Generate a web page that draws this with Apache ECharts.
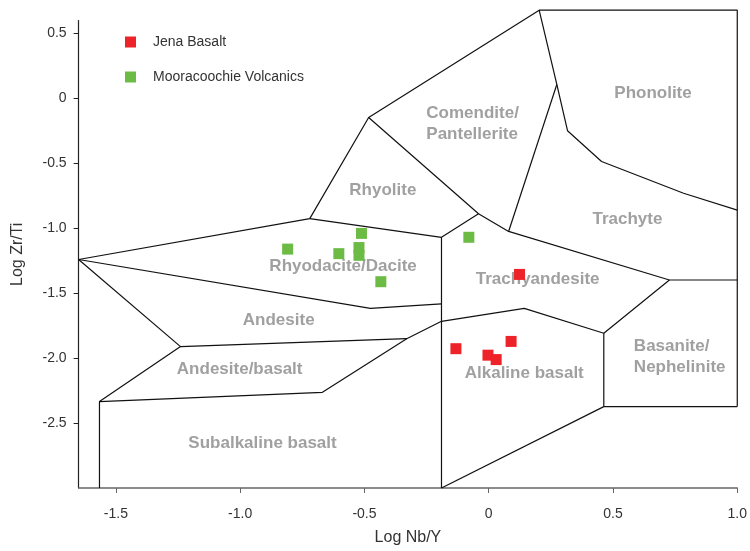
<!DOCTYPE html>
<html>
<head>
<meta charset="utf-8">
<script src="https://cdn.jsdelivr.net/npm/echarts@6/dist/echarts.min.js"></script>
<style>
  html, body { margin: 0; padding: 0; background: #fff; }
  #chart { width: 750px; height: 551px; }
</style>
</head>
<body>
<div id="chart"></div>
<script>
// Winchester & Floyd style discrimination diagram: Log Zr/Ti vs Log Nb/Y

// Sample compositions [Log Nb/Y, Log Zr/Ti]
const jenaBasalt = [
  [0.124, -1.355],
  [-0.132, -1.927],
  [-0.003, -1.977],
  [0.030, -2.011],
  [0.090, -1.871]
];
const mooracoochieVolcanics = [
  [-0.809, -1.160],
  [-0.603, -1.195],
  [-0.512, -1.039],
  [-0.522, -1.148],
  [-0.522, -1.208],
  [-0.434, -1.411],
  [-0.080, -1.069]
];

// Field boundary vertices
const A = [-1.65, -1.24], B = [-0.72, -0.925], C = [-0.483, -0.146];
const D = [0.203, 0.68], E = [1.0, 0.68], F = [0.274, 0.108];
const G = [0.317, -0.248], H = [0.454, -0.485], H2 = [0.784, -0.73];
const I = [1.0, -0.86], J = [-0.041, -0.888], K = [0.08, -1.024];
const L = [-0.19, -1.069], M = [-0.19, -1.582], N = [-0.476, -1.617];
const O = [-0.19, -1.716], P = [-0.33, -1.85], Q = [-1.24, -1.911];
const R = [-0.669, -2.263], S = [-1.566, -2.334], T = [-1.566, -3.0];
const U = [-0.19, -3.0], V = [0.727, -1.398], W = [1.0, -1.398];
const X = [0.143, -1.617], Y = [0.463, -1.808], Z = [0.463, -2.373];
const AA = [1.0, -2.373];

const boundaries = [
  [A, B, C, D, E, AA],
  [B, L, J],
  [C, J, K, V, W],
  [D, F, G, H, H2, I],
  [F, K],
  [L, U],
  [A, N, M],
  [A, Q, P, O, X, Y, V],
  [Q, S, T],
  [S, R, P],
  [Y, Z, AA],
  [Z, U]
];

// Field names, centred on the given point
const fieldNames = ['Phonolite', 'Rhyolite', 'Trachyte', 'Trachyandesite',
  'Rhyodacite/Dacite', 'Andesite', 'Andesite/basalt', 'Subalkaline basalt', 'Alkaline basalt'];
const fieldPos = [[0.661, 0.037], [-0.426, -0.706], [0.558, -0.930], [0.197, -1.393],
  [-0.586, -1.291], [-0.845, -1.706], [-1.002, -2.085], [-0.910, -2.653], [0.143, -2.118]];
// Two-line names, left-aligned from the given point
const blockNames = ['Comendite/\nPantellerite', 'Basanite/\nNephelinite'];
const blockPos = [[-0.251, -0.197], [0.584, -1.993]];

const xTicks = [-1.5, -1.0, -0.5, 0, 0.5, 1.0];
const yTicks = [-2.5, -2.0, -1.5, -1.0, -0.5, 0, 0.5];

const fmt = v => (Math.abs(v) < 1e-9 ? '0' : Number(v).toFixed(1));
const tickFont = 'Liberation Sans';
const fieldFont = { color: '#8a8888', fontSize: 17, fontWeight: 'bold', fontFamily: 'Liberation Sans' };

const series = boundaries.map(pts => ({
  type: 'line',
  data: pts,
  symbol: 'none',
  clip: false,
  silent: true,
  lineStyle: { color: '#111', width: 1.2 },
  z: 2
}));

series.push({
  type: 'scatter',
  data: fieldNames.map((n, i) => ({ name: n, value: fieldPos[i] })),
  symbolSize: 0,
  silent: true,
  label: Object.assign({ show: true, position: 'inside', formatter: '{b}' }, fieldFont),
  z: 3
});
series.push({
  type: 'scatter',
  data: blockNames.map((n, i) => ({ name: n, value: blockPos[i] })),
  symbolSize: 0,
  silent: true,
  label: Object.assign({ show: true, position: 'right', distance: 0, formatter: '{b}', align: 'left', lineHeight: 21 }, fieldFont),
  z: 3
});
series.push({
  name: 'Jena Basalt', type: 'scatter', data: jenaBasalt,
  symbol: 'rect', symbolSize: 11,
  itemStyle: { color: '#ee2229', opacity: 1 }, z: 5
});
series.push({
  name: 'Mooracoochie Volcanics', type: 'scatter', data: mooracoochieVolcanics,
  symbol: 'rect', symbolSize: 11,
  itemStyle: { color: '#6cbb45', opacity: 1 }, z: 5
});

const chart = echarts.init(document.getElementById('chart'), null, { renderer: 'canvas' });
chart.setOption({
  animation: false,
  backgroundColor: '#fff',
  grid: { left: 78.6, right: 10, top: 20.6, bottom: 60, containLabel: false },
  legend: {
    data: ['Jena Basalt', 'Mooracoochie Volcanics'],
    orient: 'vertical', left: 120, top: 30,
    icon: 'rect', itemWidth: 11, itemHeight: 11, itemGap: 21,
    itemStyle: { opacity: 1 },
    textStyle: { fontSize: 14, color: '#333', fontFamily: tickFont, padding: [0, 0, 0, 12], lineHeight: 14 }
  },
  xAxis: {
    type: 'value', min: -1.65, max: 1.0,
    name: 'Log Nb/Y', nameLocation: 'middle', nameGap: 42,
    nameTextStyle: { fontSize: 16, color: '#333', fontFamily: tickFont },
    axisLine: { onZero: false, lineStyle: { color: '#666', width: 1.5 } },
    axisTick: { show: true, length: 5, customValues: xTicks, lineStyle: { color: '#666' } },
    axisLabel: { customValues: xTicks, formatter: fmt, fontSize: 14, color: '#333', fontFamily: tickFont, margin: 19 },
    splitLine: { show: false }
  },
  yAxis: {
    type: 'value', min: -3.0, max: 0.6,
    name: 'Log Zr/Ti', nameLocation: 'middle', nameGap: 53, nameRotate: 90,
    nameTextStyle: { fontSize: 16, color: '#333', fontFamily: tickFont },
    axisLine: { show: true, onZero: false, lineStyle: { color: '#222', width: 1.2 } },
    axisTick: { show: true, length: 5, customValues: yTicks, lineStyle: { color: '#222' } },
    axisLabel: { customValues: yTicks, formatter: fmt, fontSize: 14, color: '#333', fontFamily: tickFont, margin: 12 },
    splitLine: { show: false }
  },
  series: series
});
</script>
</body>
</html>
